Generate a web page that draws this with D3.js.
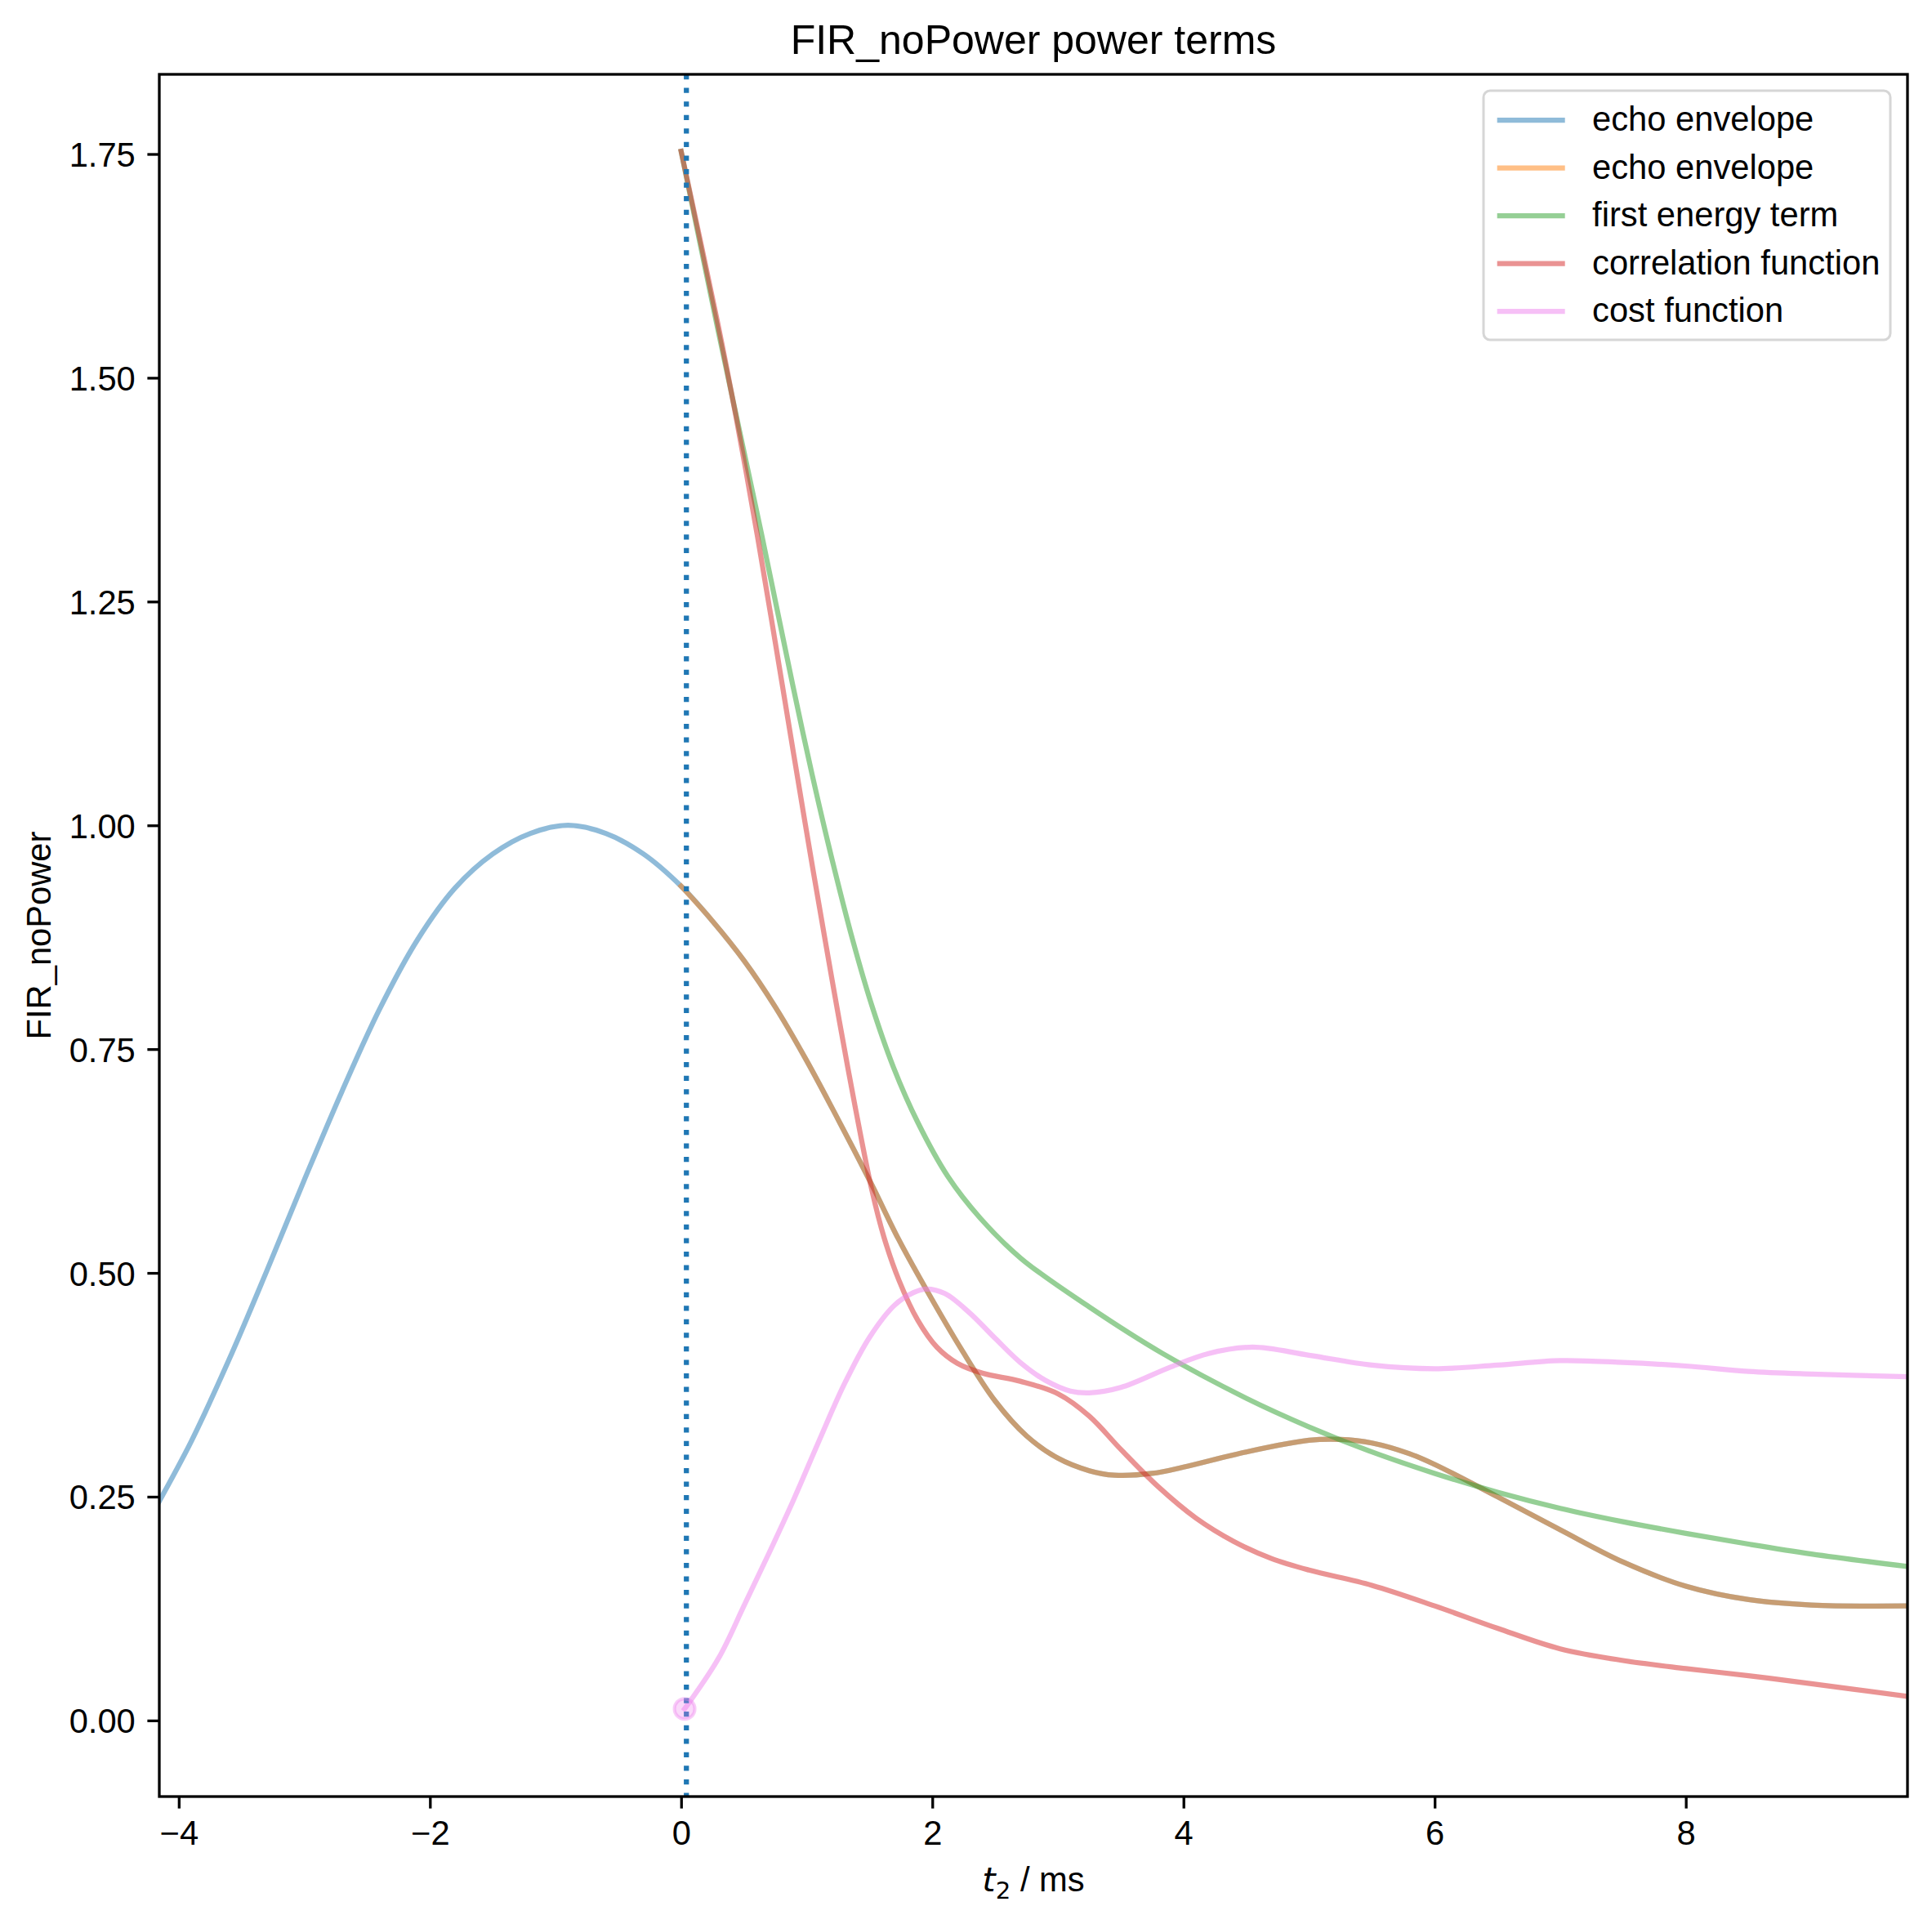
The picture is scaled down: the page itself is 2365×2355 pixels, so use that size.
<!DOCTYPE html>
<html>
<head>
<meta charset="utf-8">
<script src="https://cdn.jsdelivr.net/npm/d3@7"></script>
<style>
  body { margin: 0; background: #fff; }
  text { font-family: "Liberation Sans", Arial, sans-serif; fill: #000; }
</style>
</head>
<body>
<div id="chart"></div>
<script>
// echo envelope (blue over the whole window, orange from t2 >= 0)
const echoT = [-4.155, -3.9, -3.6, -3.3, -3.0, -2.7, -2.4, -2.1, -1.8, -1.5, -1.2, -0.9, -0.6, -0.3,
  0.0, 0.25, 0.5, 0.75, 1.0, 1.3, 1.52, 1.73, 1.95, 2.23, 2.5, 2.75, 3.0, 3.25, 3.45, 3.75, 4.0,
  4.5, 5.0, 5.25, 5.5, 5.8, 6.0, 6.5, 7.0, 7.5, 8.0, 8.5, 9.0, 9.765];
const echoY = [0.245, 0.312, 0.403, 0.502, 0.604, 0.703, 0.795, 0.872, 0.93, 0.968, 0.991, 1.0, 0.991, 0.968,
  0.932, 0.893, 0.849, 0.797, 0.737, 0.658, 0.598, 0.538, 0.482, 0.415, 0.357, 0.318, 0.293, 0.279, 0.274, 0.276, 0.283,
  0.30, 0.313, 0.314, 0.31, 0.298, 0.286, 0.25, 0.213, 0.177, 0.15, 0.135, 0.129, 0.128];

// first energy term
const energyT = [0.0, 0.29, 0.457, 0.641, 0.76, 0.89, 1.041, 1.193, 1.366, 1.518, 1.69, 1.885, 2.123,
  2.383, 2.708, 3.249, 3.833, 4.5, 5.0, 5.5, 6.0, 6.5, 7.0, 7.5, 8.0, 8.5, 9.0, 9.765];
const energyY = [1.753, 1.556, 1.446, 1.325, 1.244, 1.156, 1.058, 0.967, 0.872, 0.799, 0.730, 0.668, 0.608,
  0.561, 0.516, 0.462, 0.41, 0.36, 0.328, 0.30, 0.276, 0.255, 0.237, 0.222, 0.209, 0.197, 0.186, 0.172];

// correlation function
const corrT = [0.0, 0.29, 0.435, 0.608, 0.716, 0.803, 0.911, 1.03, 1.149, 1.258, 1.388, 1.518, 1.615, 1.734,
  1.885, 2.037, 2.2, 2.4, 2.7, 3.0, 3.25, 3.5, 3.8, 4.1, 4.4, 4.7, 5.0, 5.5, 6.0, 6.5, 7.0, 7.5, 8.0, 8.5, 9.0, 9.765];
const corrY = [1.753, 1.562, 1.458, 1.323, 1.233, 1.159, 1.067, 0.967, 0.87, 0.783, 0.684, 0.593, 0.54, 0.492,
  0.447, 0.417, 0.399, 0.388, 0.379, 0.365, 0.34, 0.303, 0.261, 0.226, 0.2, 0.181, 0.168, 0.151, 0.128, 0.103, 0.08,
  0.067, 0.058, 0.05, 0.041, 0.027];

// cost function
const costT = [0.028, 0.3, 0.5, 0.7, 0.9, 1.1, 1.3, 1.5, 1.7, 1.85, 1.95, 2.1, 2.3, 2.5, 2.7,
  2.9, 3.1, 3.25, 3.5, 3.9, 4.2, 4.55, 5.0, 5.5, 6.0, 6.5, 7.0, 7.5, 8.0, 8.5, 9.0, 9.765];
const costY = [0.013, 0.07, 0.128, 0.187, 0.248, 0.313, 0.376, 0.428, 0.464, 0.478, 0.482, 0.477, 0.455, 0.427, 0.40,
  0.38, 0.368, 0.366, 0.372, 0.395, 0.41, 0.417, 0.408, 0.397, 0.393, 0.397, 0.402, 0.40, 0.396, 0.39, 0.387, 0.384];

const minimumPoint = [0.028, 0.013];
const markerT = 0.042;

const xTicks = [-4, -2, 0, 2, 4, 6, 8];
const yTicks = [0, 0.25, 0.5, 0.75, 1.0, 1.25, 1.5, 1.75];
const labels = ['echo envelope', 'echo envelope', 'first energy term', 'correlation function', 'cost function'];
const colors = ['#1f77b4', '#ff7f0e', '#2ca02c', '#d62728', '#ee82ee'];


const W = 2365, H = 2355;
const margin = {top: 91, right: 30, bottom: 156, left: 195};
const fs = 41.7, lw = 6.25, tick = 14.6;

const svg = d3.select('#chart').append('svg')
  .attr('width', W)
  .attr('height', H);

const x = d3.scaleLinear().domain([-4.155, 9.765]).range([margin.left, W - margin.right]);
const y = d3.scaleLinear().domain([-0.085, 1.839]).range([H - margin.bottom, margin.top]);

svg.append('clipPath').attr('id', 'clip')
  .append('rect')
  .attr('x', margin.left).attr('y', margin.top)
  .attr('width', W - margin.left - margin.right)
  .attr('height', H - margin.top - margin.bottom);

const zip = (ts, vs) => ts.map((t, i) => [t, vs[i]]);
const series = [
  zip(echoT, echoY),
  zip(echoT, echoY).filter(d => d[0] >= 0),
  zip(energyT, energyY),
  zip(corrT, corrY),
  zip(costT, costY),
];

const line = d3.line()
  .x(d => x(d[0]))
  .y(d => y(d[1]))
  .curve(d3.curveCatmullRom.alpha(0.5));

const plot = svg.append('g').attr('clip-path', 'url(#clip)');

plot.selectAll('.series')
  .data(series)
  .enter().append('path')
  .attr('class', 'series')
  .attr('d', line)
  .attr('fill', 'none')
  .attr('stroke', (d, i) => colors[i])
  .attr('stroke-opacity', 0.5)
  .attr('stroke-width', lw)
  .attr('stroke-linecap', 'square')
  .attr('stroke-linejoin', 'round');

// vertical dotted marker
plot.append('line')
  .attr('x1', x(markerT)).attr('x2', x(markerT))
  .attr('y1', margin.top).attr('y2', H - margin.bottom)
  .attr('stroke', '#1f77b4')
  .attr('stroke-width', lw)
  .attr('stroke-dasharray', `${lw} ${lw * 1.65}`);

// minimum of cost function
plot.append('circle')
  .attr('cx', x(minimumPoint[0]))
  .attr('cy', y(minimumPoint[1]))
  .attr('r', 12.5)
  .attr('fill', colors[4])
  .attr('fill-opacity', 0.3)
  .attr('stroke', colors[4])
  .attr('stroke-opacity', 0.4)
  .attr('stroke-width', 4);

// axes
const xAxis = svg.append('g')
  .attr('transform', `translate(0, ${H - margin.bottom})`)
  .call(d3.axisBottom(x).tickValues(xTicks)
    .tickFormat(d => d < 0 ? '\u2212' + Math.abs(d) : String(d))
    .tickSize(tick).tickPadding(tick).tickSizeOuter(0));

const yAxis = svg.append('g')
  .attr('transform', `translate(${margin.left}, 0)`)
  .call(d3.axisLeft(y).tickValues(yTicks)
    .tickFormat(d3.format('.2f'))
    .tickSize(tick).tickPadding(tick).tickSizeOuter(0));

[xAxis, yAxis].forEach(a => {
  a.select('.domain').remove();
  a.selectAll('line').attr('stroke', '#000').attr('stroke-width', 3.3);
  a.selectAll('text')
    .style('font-family', '"Liberation Sans", Arial, sans-serif')
    .style('font-size', fs + 'px')
    .attr('fill', '#000');
});
yAxis.selectAll('text').attr('dy', '0.36em');

// frame
svg.append('rect')
  .attr('x', margin.left).attr('y', margin.top)
  .attr('width', W - margin.left - margin.right)
  .attr('height', H - margin.top - margin.bottom)
  .attr('fill', 'none')
  .attr('stroke', '#000')
  .attr('stroke-width', 3.3);

// title and labels
svg.append('text')
  .attr('x', (margin.left + W - margin.right) / 2)
  .attr('y', 66)
  .attr('text-anchor', 'middle')
  .style('font-size', '50px')
  .text('FIR_noPower power terms');

const xl = svg.append('text')
  .attr('x', (margin.left + W - margin.right) / 2)
  .attr('y', 2315)
  .attr('text-anchor', 'middle')
  .style('font-size', fs + 'px');
xl.append('tspan')
  .style('font-family', '"DejaVu Sans", sans-serif')
  .style('font-style', 'italic')
  .text('t');
xl.append('tspan')
  .style('font-family', '"DejaVu Sans", sans-serif')
  .style('font-size', (fs * 0.7) + 'px')
  .attr('dy', 9)
  .text('2');
xl.append('tspan')
  .attr('dy', -9)
  .text(' / ms');

svg.append('text')
  .attr('transform', `translate(62, ${(margin.top + H - margin.bottom) / 2}) rotate(-90)`)
  .attr('text-anchor', 'middle')
  .style('font-size', fs + 'px')
  .text('FIR_noPower');

// legend
const lg = {x0: 1816, y0: 111, w: 498, h: 305, pad: 16.7, step: 58.5};
const legend = svg.append('g');
legend.append('rect')
  .attr('x', lg.x0).attr('y', lg.y0)
  .attr('width', lg.w).attr('height', lg.h)
  .attr('rx', 8).attr('ry', 8)
  .attr('fill', '#fff').attr('fill-opacity', 0.8)
  .attr('stroke', '#d6d6d6').attr('stroke-width', 3);

const rows = legend.selectAll('.row')
  .data(labels)
  .enter().append('g')
  .attr('class', 'row')
  .attr('transform', (d, i) => `translate(${lg.x0 + lg.pad}, ${147 + i * lg.step})`);

rows.append('line')
  .attr('x1', 0).attr('x2', 83)
  .attr('stroke', (d, i) => colors[i])
  .attr('stroke-opacity', 0.5)
  .attr('stroke-width', lw);

rows.append('text')
  .attr('x', 83 + 33.4)
  .attr('y', 13)
  .style('font-size', fs + 'px')
  .text(d => d);
</script>
</body>
</html>
